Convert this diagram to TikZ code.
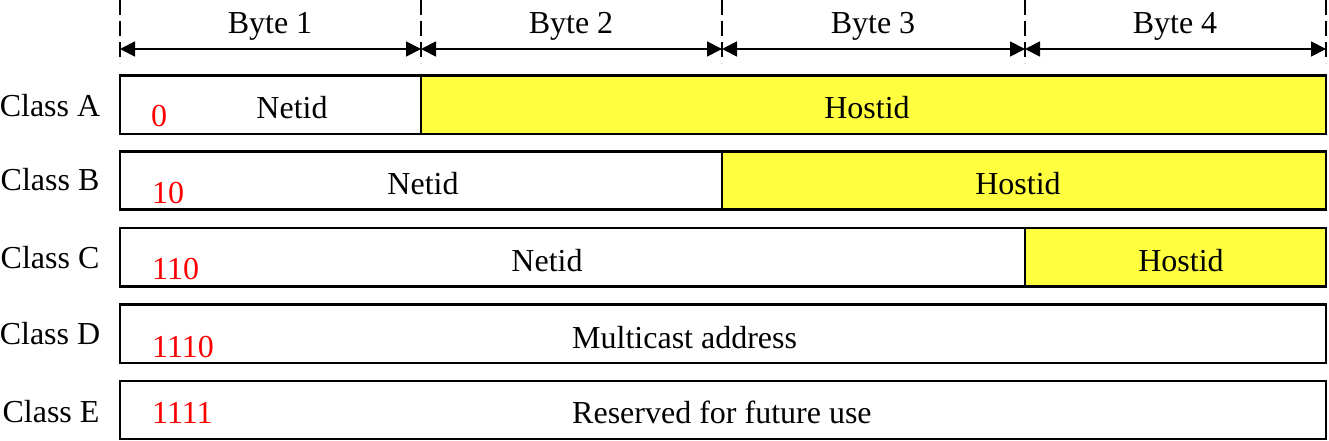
\documentclass[tikz,border=0pt]{standalone}
\usepackage{fontspec}
\setmainfont{Liberation Serif}
\usetikzlibrary{arrows.meta}
\definecolor{hostyellow}{RGB}{255,255,64}
\tikzset{>={Triangle[length=15pt,width=15pt]}}
\tikzset{
  field/.style={draw,line width=2.6pt,fill=white},
  hostfield/.style={field,fill=hostyellow},
  txt/.style={font=\fontsize{32}{38}\selectfont,inner sep=0pt,anchor=base},
  bits/.style={txt,text=red,anchor=base west},
  bound/.style={line width=1.8pt,dash pattern=on 15pt off 6pt}
}

\begin{document}
\begin{tikzpicture}[x=1pt,y=-1pt]
\useasboundingbox (0,0) rectangle (1329,441);
% byte boundaries and widths
\foreach \i/\x in {0/120,1/421,2/722,3/1025,4/1326}{
  \coordinate (t\i) at (\x,0);
  \coordinate (w\i) at (\x,49);
  \draw[bound] (t\i) -- ++(0,63);
}
\foreach \i/\j in {0/1,1/2,2/3,3/4}
  \draw[<->,line width=1.8pt] (w\i) -- (w\j);
\node[txt] (byte1) at (270,34) {Byte 1};
\node[txt] (byte2) at (571,34) {Byte 2};
\node[txt] (byte3) at (873,34) {Byte 3};
\node[txt] (byte4) at (1175,34) {Byte 4};
% Class A
\draw[field] (120,75.5) rectangle (421,134);
\draw[hostfield] (421,75.5) rectangle (1326,134);
\node[txt] (classA) at (50,117) {Class A};
\node[bits] (bitsA) at (151,127) {0};
\node[txt] (netA) at (292,118) {Netid};
\node[txt] (hostA) at (867,118) {Hostid};
% Class B
\draw[field] (120,151.5) rectangle (722,209.5);
\draw[hostfield] (722,151.5) rectangle (1326,209.5);
\node[txt] (classB) at (50,190) {Class B};
\node[bits] (bitsB) at (152,203) {10};
\node[txt] (netB) at (423,194) {Netid};
\node[txt] (hostB) at (1018,194) {Hostid};
% Class C
\draw[field] (120,228) rectangle (1025,286.5);
\draw[hostfield] (1025,228) rectangle (1326,286.5);
\node[txt] (classC) at (50,268) {Class C};
\node[bits] (bitsC) at (152,279) {110};
\node[txt] (netC) at (547,271) {Netid};
\node[txt] (hostC) at (1181,271) {Hostid};
% Class D
\draw[field] (120,304.5) rectangle (1326,363);
\node[txt] (classD) at (50,344) {Class D};
\node[bits] (bitsD) at (152,357) {1110};
\node[txt,anchor=base west] (multi) at (572,348) {Multicast address};
% Class E
\draw[field] (120,381) rectangle (1326,439);
\node[txt] (classE) at (51,422) {Class E};
\node[bits] (bitsE) at (152,423) {1111};
\node[txt,anchor=base west] (resv) at (572,423) {Reserved for future use};
\end{tikzpicture}
\end{document}
